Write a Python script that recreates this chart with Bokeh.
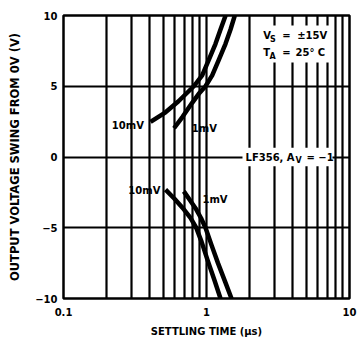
from bokeh.plotting import figure
from bokeh.models import FixedTicker, Label, BoxAnnotation
from bokeh.embed import file_html
from bokeh.resources import INLINE

# Settling time (us) versus output swing (V) for the two error bands
up_10mv_t = [0.406, 0.517, 0.637, 0.815, 0.933, 1.041, 1.156, 1.253, 1.36]
up_10mv_v = [2.48, 3.16, 3.94, 5.0, 5.77, 6.90, 8.0, 9.01, 10.0]

up_1mv_t = [0.593, 0.680, 0.794, 0.893, 0.984, 1.096, 1.223, 1.358, 1.472, 1.577]
up_1mv_v = [2.03, 2.84, 3.83, 4.53, 5.0, 5.77, 6.90, 8.0, 9.01, 10.0]

dn_10mv_t = [0.517, 0.597, 0.694, 0.773, 0.847, 0.923, 1.016, 1.137, 1.253]
dn_10mv_v = [-2.31, -2.95, -3.70, -4.31, -5.0, -5.98, -7.27, -8.71, -10.0]

dn_1mv_t = [0.694, 0.767, 0.847, 0.915, 0.984, 1.083, 1.203, 1.347, 1.496]
dn_1mv_v = [-2.43, -3.06, -3.70, -4.31, -5.0, -6.21, -7.5, -8.79, -10.0]

x_ticks = [0.1, 1, 10]
x_tick_labels = ["0.1", "1", "10"]
y_ticks = [-10, -5, 0, 5, 10]
y_tick_labels = ["\u221210", "\u22125", "0", "5", "10"]
x_grid = [0.2, 0.3, 0.4, 0.5, 0.6, 0.7, 0.8, 0.9, 1, 2, 3, 4, 5, 6, 7, 8, 9]
y_grid = [-5, 0, 5]

FONT = "DejaVu Sans"
INK = "#000000"

p = figure(
    width=358, height=343,
    x_axis_type="log",
    x_range=(0.1, 10), y_range=(-10, 10),
    output_backend="svg", toolbar_location=None,
    min_border_left=63, min_border_right=9,
    min_border_top=15, min_border_bottom=45,
)
p.background_fill_color = "white"
p.border_fill_color = "white"
p.outline_line_color = INK
p.outline_line_width = 2.5

# grid
p.xgrid.ticker = FixedTicker(ticks=x_grid)
p.ygrid.ticker = FixedTicker(ticks=y_grid)
for g in (p.xgrid, p.ygrid):
    g.grid_line_color = INK
    g.grid_line_width = 2.2
    g.grid_line_alpha = 1.0

# axes
p.xaxis.ticker = FixedTicker(ticks=x_ticks)
p.yaxis.ticker = FixedTicker(ticks=y_ticks)
p.xaxis.major_label_overrides = dict(zip(x_ticks, x_tick_labels))
p.yaxis.major_label_overrides = dict(zip(y_ticks, y_tick_labels))
for ax in (p.xaxis, p.yaxis):
    ax.axis_line_color = None
    ax.major_tick_in = 0
    ax.major_tick_out = 0
    ax.minor_tick_in = 0
    ax.minor_tick_out = 0
    ax.major_label_text_font = FONT
    ax.major_label_text_font_style = "bold"
    ax.major_label_text_font_size = "10px"
    ax.major_label_text_color = INK
    ax.axis_label_text_font = FONT
    ax.axis_label_text_font_style = "bold"
    ax.axis_label_text_color = INK

p.xaxis.axis_label = "SETTLING TIME (\u00b5s)"
p.xaxis.axis_label_text_font_size = "10px"
p.xaxis.major_label_standoff = 9
p.xaxis.axis_label_standoff = 7

p.yaxis.axis_label = "OUTPUT VOLTAGE SWING FROM 0V (V)"
p.yaxis.axis_label_text_font_size = "11.5px"
p.yaxis.major_label_standoff = 6
p.yaxis.axis_label_standoff = 10

# curves
for t, v in ((up_10mv_t, up_10mv_v), (up_1mv_t, up_1mv_v),
             (dn_10mv_t, dn_10mv_v), (dn_1mv_t, dn_1mv_v)):
    p.line(t, v, line_color=INK, line_width=4.5, line_cap="butt", line_join="round")


def txt(x, y, s, align="left", size="10px", yoff=0):
    p.add_layout(Label(x=x, y=y, text=s, text_font=FONT, text_font_style="bold",
                       text_font_size=size, text_color=INK, text_align=align,
                       text_baseline="middle", y_offset=yoff))


# curve labels
txt(0.365, 2.2, "10mV", align="right")
txt(0.79, 2.0, "1mV")
txt(0.476, -2.4, "10mV", align="right")
txt(0.937, -3.0, "1mV")

# condition block, top right
p.add_layout(BoxAnnotation(left=2.31, right=7.32, bottom=6.68, top=9.29,
                           fill_color="white", fill_alpha=1.0, line_color=None))
txt(2.49, 8.59, "V")
txt(2.78, 8.59, "S", size="8px", yoff=-4)
txt(3.38, 8.59, "=")
txt(4.31, 8.59, "\u00b115V")
txt(2.49, 7.41, "T")
txt(2.76, 7.41, "A", size="8px", yoff=-4)
txt(3.38, 7.41, "=")
txt(4.19, 7.41, "25\u00b0 C")

# device / gain tag on the zero line
p.add_layout(BoxAnnotation(left=1.785, right=7.6, bottom=-0.65, top=0.65,
                           fill_color="white", fill_alpha=1.0, line_color=None))
txt(1.874, 0, "LF356, A")
txt(4.19, 0, "V", size="8px", yoff=-3)
txt(5.0, 0, "= \u22121")

open("out.html", "w").write(file_html(p, INLINE))
